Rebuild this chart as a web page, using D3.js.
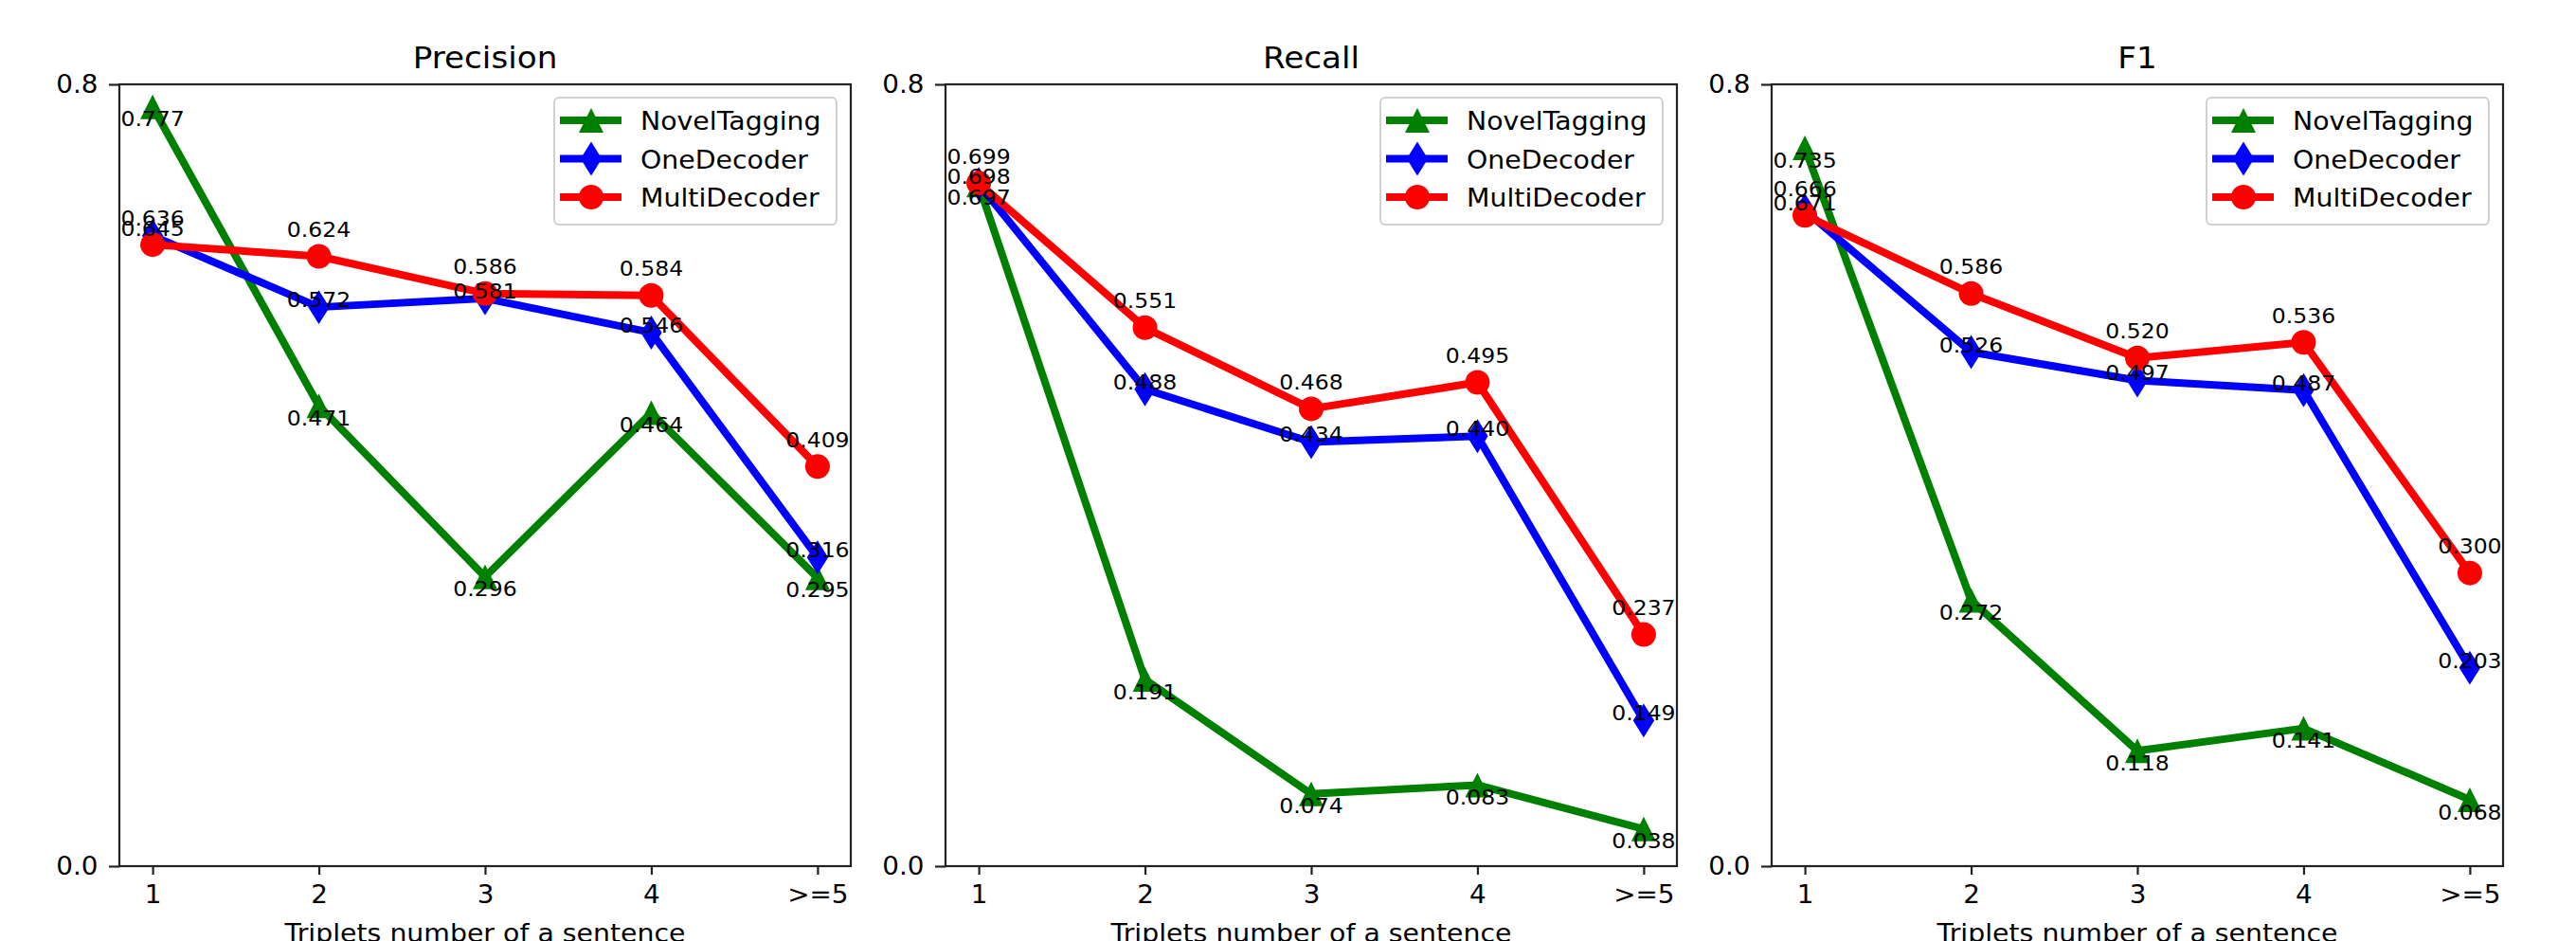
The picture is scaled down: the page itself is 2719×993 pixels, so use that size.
<!DOCTYPE html>
<html>
<head>
    <meta charset="utf-8">
    <script src="https://d3js.org/d3.v7.min.js" charset="utf-8"></script>
    <style>
        body { margin: 0; background: #fff; }
        text { font-family: "DejaVu Sans", sans-serif; fill: #000; }
    </style>
</head>
<body>
    <div id="chart_container"></div>
    <script>
        // Categories and series
        const categories = ['1', '2', '3', '4', '>=5'];
        const seriesNames = ['NovelTagging', 'OneDecoder', 'MultiDecoder'];
        const panelTitles = ['Precision', 'Recall', 'F1'];
        const yTicks = [0.0, 0.8];

        // Precision
        const precisionNovel = [0.777, 0.471, 0.296, 0.464, 0.295];
        const precisionOne = [0.645, 0.572, 0.581, 0.546, 0.316];
        const precisionMulti = [0.636, 0.624, 0.586, 0.584, 0.409];

        // Recall
        const recallNovel = [0.697, 0.191, 0.074, 0.083, 0.038];
        const recallOne = [0.698, 0.488, 0.434, 0.440, 0.149];
        const recallMulti = [0.699, 0.551, 0.468, 0.495, 0.237];

        // F1
        const f1Novel = [0.735, 0.272, 0.118, 0.141, 0.068];
        const f1One = [0.671, 0.526, 0.497, 0.487, 0.203];
        const f1Multi = [0.666, 0.586, 0.520, 0.536, 0.300];

        const panels = [
            { title: panelTitles[0], values: [precisionNovel, precisionOne, precisionMulti] },
            { title: panelTitles[1], values: [recallNovel, recallOne, recallMulti] },
            { title: panelTitles[2], values: [f1Novel, f1One, f1Multi] }
        ];

        // style per series: color, marker, label offset (in data units)
        const styles = [
            { color: '#008000', marker: 'triangle', offset: -0.02 },
            { color: '#0000ff', marker: 'diamond', offset: 0 },
            { color: '#ff0000', marker: 'circle', offset: 0.02 }
        ];

        var width = 2719,
            height = 993;
        var axTop = 89, axBottom = 914, axWidth = 772;
        var axLefts = [126, 998, 1870];
        var ms = 24, lw = 8;
        var stretch = 1.07; // the source picture is a little wider than tall

        const svg = d3.select('#chart_container')
            .append('svg')
            .attr('width', width)
            .attr('height', height);

        // place a text at (x, y) with a slight horizontal stretch
        const placeText = (sel, x, y) => sel.attr('transform', `translate(${x},${y}) scale(${stretch},1)`);

        const markerPath = (type) => {
            if (type === 'circle') return d3.symbol(d3.symbolCircle, Math.PI * (ms / 2 + 1) * (ms / 2 + 1))();
            if (type === 'triangle') {
                const h = (ms + 2) / 2;
                return `M0,${-h}L${h},${h}L${-h},${h}Z`;
            }
            // thin diamond
            const hh = (ms * 1.414 + 2) / 2, hw = (ms * 0.85 + 2) / 2;
            return `M0,${-hh}L${hw},0L0,${hh}L${-hw},0Z`;
        };

        panels.forEach((p, i) => {
            const left = axLefts[i];
            const x = d3.scalePoint().domain(categories).range([left, left + axWidth]).padding(0.2);
            const y = d3.scaleLinear().domain([0, 0.8]).range([axBottom, axTop]);

            const g = svg.append('g');

            // title
            g.append('text')
                .call(placeText, left + axWidth / 2, 72)
                .attr('text-anchor', 'middle')
                .style('font-size', '32px')
                .text(p.title);

            // axes
            const xAxis = g.append('g')
                .attr('transform', `translate(0,${axBottom})`)
                .call(d3.axisBottom(x).tickSize(9).tickPadding(12).tickSizeOuter(0));
            const yAxis = g.append('g')
                .attr('transform', `translate(${left},0)`)
                .call(d3.axisLeft(y).tickValues(yTicks).tickFormat(d3.format('.1f')).tickSize(11).tickPadding(10).tickSizeOuter(0));
            [xAxis, yAxis].forEach(a => {
                a.select('.domain').remove();
                a.selectAll('line').attr('stroke', '#222').attr('stroke-width', 2.2);
                a.selectAll('text')
                    .style('font-size', '26px')
                    .attr('fill', '#000')
                    .attr('transform', `scale(${stretch},1)`)
                    .style('font-family', '"DejaVu Sans", sans-serif');
            });

            // x label
            g.append('text')
                .call(placeText, left + axWidth / 2, 994)
                .attr('text-anchor', 'middle')
                .style('font-size', '26.5px')
                .text('Triplets number of a sentence');

            // series lines + markers
            const line = d3.line().x((d, k) => x(categories[k])).y(d => y(d));
            p.values.forEach((vals, s) => {
                const st = styles[s];
                g.append('path')
                    .datum(vals)
                    .attr('d', line)
                    .attr('fill', 'none')
                    .attr('stroke', st.color)
                    .attr('stroke-width', lw)
                    .attr('stroke-linejoin', 'round')
                    .attr('stroke-linecap', 'square');
                g.selectAll(null)
                    .data(vals)
                    .enter()
                    .append('path')
                    .attr('d', markerPath(st.marker))
                    .attr('transform', (d, k) => `translate(${x(categories[k])},${y(d)})`)
                    .attr('fill', st.color);
            });

            // value labels
            p.values.forEach((vals, s) => {
                const st = styles[s];
                g.selectAll(null)
                    .data(vals)
                    .enter()
                    .append('text')
                    .attr('transform', (d, k) => `translate(${x(categories[k])},${y(d + st.offset)}) scale(${stretch},1)`)
                    .attr('text-anchor', 'middle')
                    .style('font-size', '22px')
                    .text(d => d.toFixed(3));
            });

            // frame
            g.append('rect')
                .attr('x', left)
                .attr('y', axTop)
                .attr('width', axWidth)
                .attr('height', axBottom - axTop)
                .attr('fill', 'none')
                .attr('stroke', '#222')
                .attr('stroke-width', 2.2);

            // legend
            const lgW = 298;
            const lgX = left + axWidth - 15 - lgW, lgY = axTop + 14;
            const lg = g.append('g').attr('transform', `translate(${lgX},${lgY})`);
            lg.append('rect')
                .attr('width', lgW)
                .attr('height', 134)
                .attr('rx', 5)
                .attr('fill', '#fff')
                .attr('fill-opacity', 0.8)
                .attr('stroke', '#d0d0d0')
                .attr('stroke-width', 2);
            seriesNames.forEach((name, s) => {
                const st = styles[s];
                const cy = 24 + s * 40.5;
                lg.append('line')
                    .attr('x1', 10).attr('x2', 67)
                    .attr('y1', cy).attr('y2', cy)
                    .attr('stroke', st.color)
                    .attr('stroke-width', lw)
                    .attr('stroke-linecap', 'square');
                lg.append('path')
                    .attr('d', markerPath(st.marker))
                    .attr('transform', `translate(39,${cy})`)
                    .attr('fill', st.color);
                lg.append('text')
                    .call(placeText, 91, cy + 10)
                    .style('font-size', '26.5px')
                    .attr('fill', '#1a1a1a')
                    .text(name);
            });
        });
    </script>
</body>
</html>
